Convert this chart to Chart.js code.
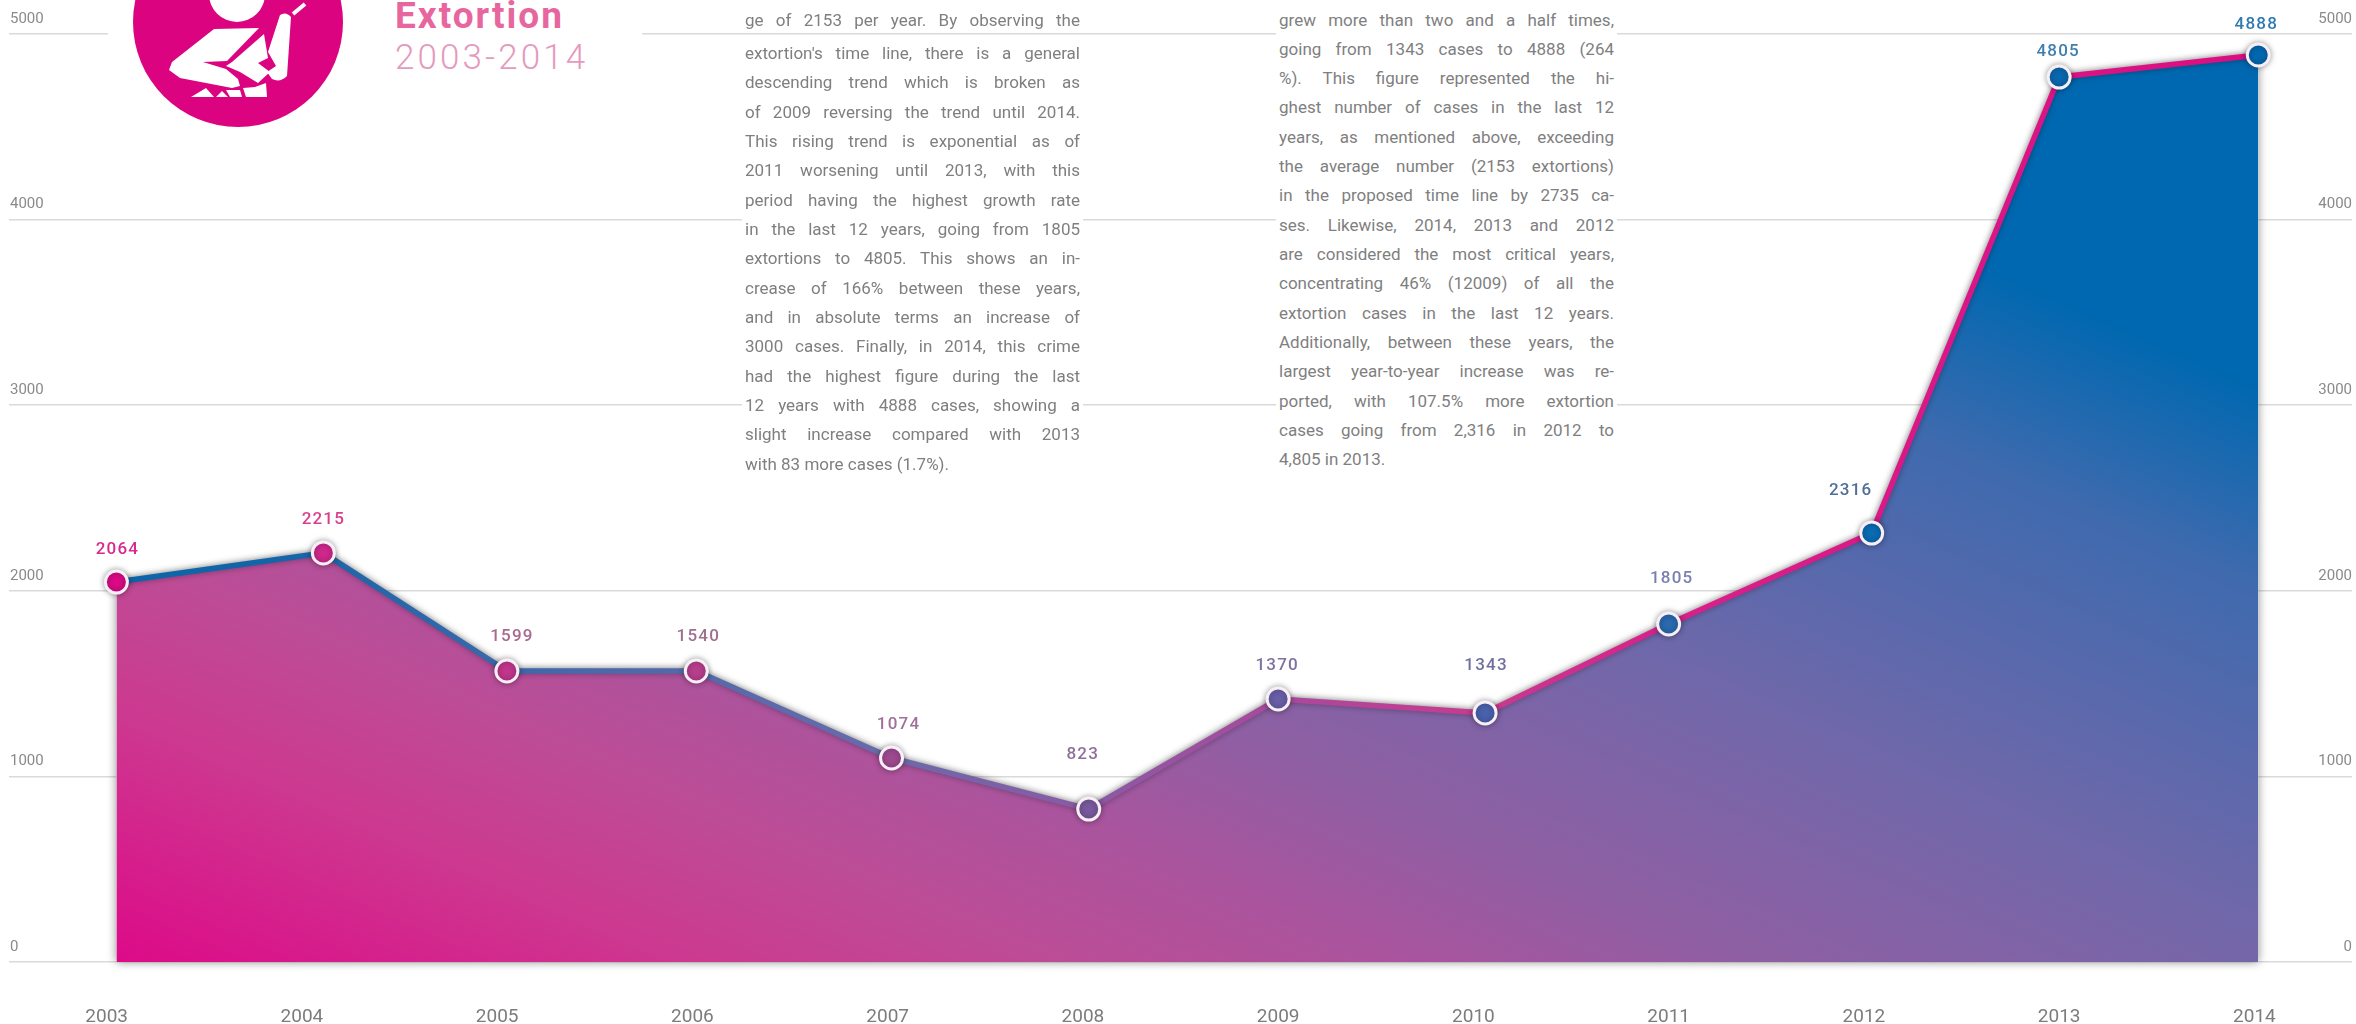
<!DOCTYPE html>
<html lang="en">
<head>
    <meta charset="UTF-8">
    <title>Extortion 2003-2014</title>
    <script src="https://cdn.jsdelivr.net/npm/chart.js"></script>
    <style>
        * { box-sizing: border-box; }
        html, body { margin:0; padding:0; background:#fff; overflow:hidden; }
        #page { position:relative; width:2356px; height:1024px; overflow:hidden; font-family:Roboto, sans-serif; }
        canvas { position:absolute; left:0; top:0; }
        .mask { position:absolute; background:#fff; }
        #title-mask { left:108px; top:0; width:534px; height:130px; }
        #icon { position:absolute; left:0; top:0; }
        #title { position:absolute; left:395px; top:-5px; color:#e8669e; font-size:37px; font-weight:700; letter-spacing:2px; line-height:42px; }
        #period { position:absolute; left:395px; top:37px; color:#e59abd; font-size:35px; font-weight:300; letter-spacing:3.1px; line-height:42px; }
        .col { position:absolute; background:#fff; width:341px; padding:0 3px; color:#7f7f7f; font-size:17px; }
        .col div { height:29.33px; line-height:29.33px; text-align:justify; text-align-last:justify; overflow:hidden; }
        .col div.last { text-align-last:left; }
        #col1 { left:742px; top:39px; }
        #col2 { left:1276px; top:0; padding-top:5.5px; }
        #col1-top { position:absolute; left:745px; top:5.5px; width:335px; color:#7f7f7f; font-size:17px; height:29px; line-height:29.33px; text-align-last:justify; overflow:hidden; }
    </style>
</head>
<body>
<div id="page">
    <canvas id="chart" width="2356" height="1024"></canvas>
    <div class="mask" id="title-mask"></div>
    <svg id="icon" width="360" height="135" viewBox="0 0 360 135">
        <circle cx="238" cy="22" r="105" fill="#dc0380"/>
        <circle cx="237" cy="-6" r="28" fill="#fff"/>
        <path d="M214 29 L259 28 L227 61 L203 62 L226 69 L238 79 L240 86 L232 88 L180 78 L169 70 L172 62 Z" fill="#fff"/>
        <path d="M264 34 L268 58 L258 63 L270 72 L258 83 L240 72 L226 66 L232 62 Z" fill="#fff"/>
        <path d="M280 15 Q286 11 291 17 L287 76 Q280 83 272 79 L267 72 L276 66 L268 52 Z" fill="#fff"/>
        <path d="M293 14 L305 4" stroke="#fff" stroke-width="4"/>
        <path d="M191 97 L206 88 L214 97 Z M216 97 L222 91 L228 97 Z M226 90 L240 90 L242 97 L230 97 Z M243 88 L255 87 L266 83 L267 97 L246 97 Z" fill="#fff"/>
    </svg>
    <div id="title">Extortion</div>
    <div id="period">2003-2014</div>
    <div id="col1-top"></div>
    <div class="col" id="col1"></div>
    <div class="col" id="col2"></div>
</div>
<script>
    const years = [2003, 2004, 2005, 2006, 2007, 2008, 2009, 2010, 2011, 2012, 2013, 2014];
    // numbers printed above the points
    const printedCases = [2064, 2215, 1599, 1540, 1074, 823, 1370, 1343, 1805, 2316, 4805, 4888];
    // where the points are actually drawn in the source, read against its axes
    // (the original artwork does not sit exactly on its own ticks)
    const plottedYears = [2003.05, 2004.11, 2005.05, 2006.02, 2007.02, 2008.03, 2009.00, 2010.06, 2011.00, 2012.04, 2013.00, 2014.02];
    const plottedCases = [2047, 2204, 1568, 1568, 1099, 824, 1417, 1342, 1821, 2311, 4768, 4887];
    const yTicks = [0, 1000, 2000, 3000, 4000, 5000];

    const pointColors = ['#dc0a86', '#d0288c', '#c2368d', '#b83f8e', '#9f4a90', '#7a5a9f', '#6a5fa8', '#4a62ae', '#2a6ab0', '#0a6cb4', '#0a68b0', '#0068b0'];
    const labelColors = ['#d8288f', '#d8408f', '#a86a90', '#a06f90', '#a0709a', '#906f98', '#7f72a0', '#7070a0', '#7a7fb0', '#4f6f98', '#3f7fb0', '#2f7ab0'];
    const labelOffsets = [[1, -32], [0, -33], [5, -34], [2, -34], [7, -33], [-6, -54], [-1, -33], [1, -47], [3, -45], [-21, -42], [-1, -25], [-2, -30]];

    const col1Lines = [
        "extortion's time line, there is a general",
        'descending trend which is broken as',
        'of 2009 reversing the trend until 2014.',
        'This rising trend is exponential as of',
        '2011 worsening until 2013, with this',
        'period having the highest growth rate',
        'in the last 12 years, going from 1805',
        'extortions to 4805. This shows an in-',
        'crease of 166% between these years,',
        'and in absolute terms an increase of',
        '3000 cases. Finally, in 2014, this crime',
        'had the highest figure during the last',
        '12 years with 4888 cases, showing a',
        'slight increase compared with 2013',
        'with 83 more cases (1.7%).'
    ];
    const col2Lines = [
        'grew more than two and a half times,',
        'going from 1343 cases to 4888 (264',
        '%). This figure represented the hi-',
        'ghest number of cases in the last 12',
        'years, as mentioned above, exceeding',
        'the average number (2153 extortions)',
        'in the proposed time line by 2735 ca-',
        'ses.  Likewise, 2014, 2013 and 2012',
        'are considered the most critical years,',
        'concentrating 46% (12009) of all the',
        'extortion cases in the last 12 years.',
        'Additionally, between these years, the',
        'largest year-to-year increase was re-',
        'ported, with 107.5% more extortion',
        'cases going from 2,316 in 2012 to',
        '4,805 in 2013.'
    ];

    // tight lines get their spaces squeezed so they stay on one row
    function squeeze(el) {
        let ws = 0;
        while (el.scrollHeight > el.clientHeight + 1 && ws > -4) {
            ws -= 0.25;
            el.style.wordSpacing = ws + 'px';
        }
    }

    const topLine = document.getElementById('col1-top');
    topLine.textContent = 'ge of 2153 per year.  By observing the';
    squeeze(topLine);

    function fillColumn(id, lines) {
        const el = document.getElementById(id);
        lines.forEach((text, i) => {
            const d = document.createElement('div');
            d.textContent = text;
            if (i === lines.length - 1) d.className = 'last';
            el.appendChild(d);
            squeeze(d);
        });
    }
    fillColumn('col1', col1Lines);
    fillColumn('col2', col2Lines);

    function areaGradient(chart) {
        const g = chart.ctx.createLinearGradient(117, 962, 675, -308);
        g.addColorStop(0, '#dd0a88');
        g.addColorStop(0.17, '#cc3a90');
        g.addColorStop(0.27, '#bd4c96');
        g.addColorStop(0.38, '#a8559e');
        g.addColorStop(0.475, '#8f5fa3');
        g.addColorStop(0.65, '#6f68aa');
        g.addColorStop(0.87, '#3f6aae');
        g.addColorStop(1, '#0068b0');
        return g;
    }

    function lineGradient(chart) {
        const a = chart.chartArea;
        const g = chart.ctx.createLinearGradient(a.left, 0, a.right, 0);
        g.addColorStop(0, '#0b66aa');
        g.addColorStop(0.1, '#0f65a8');
        g.addColorStop(0.25, '#4a69aa');
        g.addColorStop(0.376, '#6a6aaa');
        g.addColorStop(0.46, '#8a5aa4');
        g.addColorStop(0.54, '#a84a9c');
        g.addColorStop(0.63, '#c83a90');
        g.addColorStop(0.71, '#d8208a');
        g.addColorStop(1, '#dc0a80');
        return g;
    }

    // soft shadow round the area, filler clips its own fill so it goes underneath
    const areaShadow = {
        id: 'areaShadow',
        beforeDatasetsDraw(chart) {
            const pts = chart.getDatasetMeta(0).data;
            const base = chart.scales.y.getPixelForValue(0);
            const c = chart.ctx;
            c.save();
            c.shadowColor = 'rgba(0,0,0,0.45)';
            c.shadowBlur = 10;
            c.fillStyle = '#fff';
            c.beginPath();
            c.moveTo(pts[0].x, base);
            pts.forEach(p => c.lineTo(p.x, p.y));
            c.lineTo(pts[pts.length - 1].x, base);
            c.closePath();
            c.fill();
            c.restore();
        },
        beforeDatasetDraw(chart) {
            chart.ctx.save();
            chart.ctx.shadowColor = 'rgba(0,0,0,0.35)';
            chart.ctx.shadowBlur = 6;
        },
        afterDatasetDraw(chart) {
            chart.ctx.restore();
        }
    };

    const valueLabels = {
        id: 'valueLabels',
        afterDatasetsDraw(chart) {
            const c = chart.ctx;
            const pts = chart.getDatasetMeta(0).data;
            c.save();
            c.font = '500 17px Roboto';
            c.letterSpacing = '1.2px';
            c.textAlign = 'center';
            c.textBaseline = 'middle';
            pts.forEach((p, i) => {
                c.fillStyle = labelColors[i];
                c.fillText(String(printedCases[i]), p.x + labelOffsets[i][0], p.y + labelOffsets[i][1]);
            });
            c.restore();
        }
    };

    new Chart(document.getElementById('chart'), {
        type: 'line',
        data: {
            datasets: [{
                data: plottedYears.map((x, i) => ({ x, y: plottedCases[i] })),
                fill: 'origin',
                clip: false,
                tension: 0,
                borderWidth: 5.5,
                borderJoinStyle: 'round',
                backgroundColor: ctx => areaGradient(ctx.chart),
                borderColor: ctx => ctx.chart.chartArea ? lineGradient(ctx.chart) : '#888',
                pointRadius: 11,
                pointBorderWidth: 3,
                pointBorderColor: '#f8eef6',
                pointBackgroundColor: pointColors
            }]
        },
        options: {
            responsive: false,
            animation: false,
            layout: { autoPadding: false, padding: { left: 9, right: 4, top: 34, bottom: 0 } },
            plugins: { legend: { display: false }, tooltip: { enabled: false } },
            scales: {
                x: {
                    type: 'linear',
                    min: 2002.5,
                    max: 2014.5,
                    grid: { display: false },
                    border: { display: false },
                    afterBuildTicks(s) { s.ticks = years.map(value => ({ value })); },
                    afterFit(s) { s.height = 62; },
                    ticks: {
                        autoSkip: false,
                        maxRotation: 0,
                        padding: 36,
                        color: '#7c7c7c',
                        font: { family: 'Roboto', size: 19 },
                        callback: v => String(v)
                    }
                },
                y: {
                    min: yTicks[0],
                    max: yTicks[yTicks.length - 1],
                    border: { display: false },
                    grid: { color: '#dadada', lineWidth: 1.5, drawTicks: false },
                    afterFit(s) { s.width = 0; },
                    ticks: {
                        stepSize: 1000,
                        mirror: true,
                        padding: 1,
                        labelOffset: -15,
                        color: '#8a8a8a',
                        font: { family: 'Roboto', size: 15 },
                        callback: v => String(v)
                    }
                },
                y2: {
                    position: 'right',
                    min: yTicks[0],
                    max: yTicks[yTicks.length - 1],
                    border: { display: false },
                    grid: { display: false, drawTicks: false },
                    afterFit(s) { s.width = 0; },
                    ticks: {
                        stepSize: 1000,
                        mirror: true,
                        padding: 0,
                        labelOffset: -15,
                        color: '#8a8a8a',
                        font: { family: 'Roboto', size: 15 },
                        callback: v => String(v)
                    }
                }
            }
        },
        plugins: [areaShadow, valueLabels]
    });
</script>
</body>
</html>
